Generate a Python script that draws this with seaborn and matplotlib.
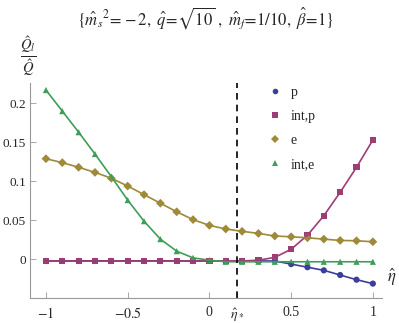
import numpy as np
import pandas as pd
import matplotlib.pyplot as plt
import seaborn as sns

sns.set_theme(style="ticks")
plt.rcParams['font.family'] = ['Liberation Serif', 'DejaVu Serif']
plt.rcParams['mathtext.fontset'] = 'stix'

# data (eta = -1 ... 1, step 0.1)
eta = [-1.0, -0.9, -0.8, -0.7, -0.6, -0.5, -0.4, -0.3, -0.2, -0.1, 0.0,
       0.1, 0.2, 0.3, 0.4, 0.5, 0.6, 0.7, 0.8, 0.9, 1.0]
q_p = [-0.002, -0.002, -0.002, -0.002, -0.002, -0.002, -0.002, -0.002, -0.002, -0.002, -0.002,
       -0.002, -0.002, -0.002, -0.002, -0.006, -0.010, -0.014, -0.020, -0.026, -0.031]
q_int_p = [-0.002, -0.002, -0.002, -0.002, -0.002, -0.002, -0.002, -0.002, -0.002, -0.002, -0.002,
           -0.002, -0.002, -0.001, 0.0026, 0.013, 0.031, 0.056, 0.086, 0.118, 0.153]
q_e = [0.129, 0.124, 0.118, 0.1115, 0.104, 0.094, 0.083, 0.072, 0.061, 0.051, 0.0436,
       0.039, 0.036, 0.0333, 0.030, 0.029, 0.0277, 0.026, 0.0243, 0.0239, 0.0226]
q_int_e = [0.217, 0.190, 0.163, 0.135, 0.106, 0.076, 0.049, 0.026, 0.0106, 0.002, -0.001,
           -0.003, -0.003, -0.003, -0.003, -0.003, -0.003, -0.003, -0.003, -0.003, -0.003]
series_names = ["p", "int,p", "e", "int,e"]
eta_star = 0.168

df = pd.concat([
    pd.DataFrame({"eta": eta, "Q": vals, "series": name})
    for name, vals in zip(series_names, [q_p, q_int_p, q_e, q_int_e])
], ignore_index=True)

palette = {"p": (0.24, 0.24, 0.62), "int,p": (0.62, 0.24, 0.45),
           "e": (0.62, 0.54, 0.22), "int,e": (0.24, 0.62, 0.34)}
markers = {"p": "o", "int,p": "s", "e": "D", "int,e": "^"}

fig = plt.figure(figsize=(3.99, 3.23), dpi=100)
ax = fig.add_axes([0.075, 0.077, 0.882, 0.666])

sns.lineplot(data=df, x="eta", y="Q", hue="series", palette=palette,
             linewidth=1.2, legend=False, ax=ax)
sns.scatterplot(data=df, x="eta", y="Q", hue="series", style="series",
                palette=palette, markers=markers, s=20, edgecolor="none", ax=ax)

ax.axvline(eta_star, color="black", linestyle=(0, (4, 3)), linewidth=1.2)

ax.set_xlim(-1.098, 1.055)
ax.set_ylim(-0.0496, 0.226)
ax.set_xticks([-1, -0.5, 0, eta_star, 0.5, 1])
ax.set_xticklabels([r"$-1$", r"$-0.5$", "0", r"$\hat{\eta}_*$", "0.5", "1"])
ax.set_yticks([0, 0.05, 0.1, 0.15, 0.2])
ax.set_yticklabels(["0", "0.05", "0.1", "0.15", "0.2"])
ax.tick_params(direction="in", length=4, width=0.6, color="#999999",
               labelsize=10)
ax.tick_params(axis="x", pad=6)
ax.tick_params(axis="y", pad=3, labelsize=9.5)
for s in ["top", "right"]:
    ax.spines[s].set_visible(False)
for s in ["left", "bottom"]:
    ax.spines[s].set_color("#999999")
    ax.spines[s].set_linewidth(0.8)
ax.set_xlabel("")
ax.set_ylabel("")

fig.text(0.982, 0.14, r"$\hat{\eta}$", fontsize=12, ha="center", va="center")
fig.text(0.07, 0.825, r"$\frac{\hat{Q}_l}{\hat{Q}}$", fontsize=15, ha="center", va="center")
fig.text(0.515, 0.945,
         r"$\{\hat{m}_s{}^2\!=\!-2,\ \hat{q}\!=\!\sqrt{10}\ ,\ \hat{m}_f\!=\!1/10,\ \hat{\beta}\!=\!1\}$",
         fontsize=12, ha="center", va="center")

ax.legend(loc="upper left", bbox_to_anchor=(0.642, 1.045), frameon=False,
          fontsize=10, handlelength=1.0, handletextpad=0.6,
          labelspacing=0.8, markerscale=0.9)

fig.savefig("out.png", dpi=100)
